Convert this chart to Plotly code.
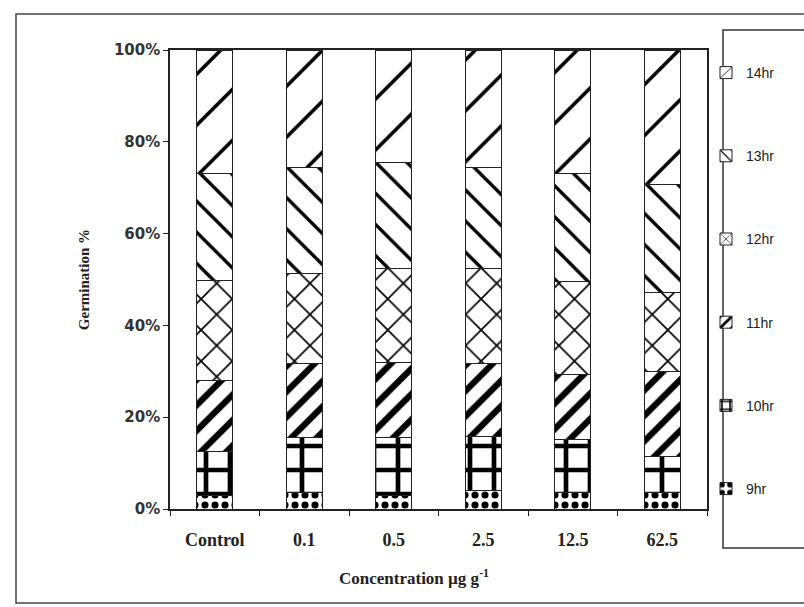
import plotly.graph_objects as go

# Concentrations tested
categories = ["Control", "0.1", "0.5", "2.5", "12.5", "62.5"]

# Share of germination (%) reached at each hour, per concentration
hr9 = [3.0, 3.7, 3.0, 4.0, 3.6, 3.5]
hr10 = [9.5, 11.8, 12.5, 11.8, 11.6, 8.0]
hr11 = [15.5, 16.3, 16.5, 16.0, 14.0, 18.5]
hr12 = [21.7, 19.6, 20.3, 20.5, 20.3, 17.1]
hr13 = [23.3, 23.1, 23.3, 22.0, 23.5, 23.5]
hr14 = [27.0, 25.5, 24.4, 25.7, 27.0, 29.4]

series_names = ["9hr", "10hr", "11hr", "12hr", "13hr", "14hr"]
series_values = [hr9, hr10, hr11, hr12, hr13, hr14]

# black-and-white hatch fills, one per hour
patterns = [
    dict(shape=".", size=10, solidity=0.4),
    dict(shape="+", size=24, solidity=0.35),
    dict(shape="/", size=18, solidity=0.35),
    dict(shape="x", size=22, solidity=0.15),
    dict(shape="\\", size=22, solidity=0.15),
    dict(shape="/", size=36, solidity=0.1),
]

fig = go.Figure()
for i, (name, vals, pat) in enumerate(zip(series_names, series_values, patterns)):
    fig.add_trace(go.Bar(
        x=categories,
        y=vals,
        name=name,
        legendgroup=name,
        legendrank=len(series_names) - i,
        marker=dict(
            color="white",
            line=dict(color="#222222", width=1),
            pattern=dict(fgcolor="black", bgcolor="white", fillmode="replace", **pat),
        ),
    ))

L, R, T, B = 170, 97, 50, 98
W, H = 804, 607
pw, ph = W - L - R, H - T - B


def px(x):
    return (x - L) / pw


def py(y):
    return (H - B - y) / ph


serif = "Liberation Serif, Times New Roman, serif"

fig.update_layout(
    width=W,
    height=H,
    barmode="stack",
    barnorm="percent",
    bargap=0.6,
    paper_bgcolor="white",
    plot_bgcolor="white",
    margin=dict(l=L, r=R, t=T, b=B, autoexpand=False),
    showlegend=True,
    legend=dict(
        x=px(706), y=py(57), xanchor="left", yanchor="top",
        traceorder="grouped",
        tracegroupgap=62,
        bgcolor="rgba(0,0,0,0)",
        borderwidth=0,
        font=dict(family="Liberation Sans, Arial", size=14, color="#222222"),
    ),
    xaxis=dict(
        showline=True, linecolor="#222222", linewidth=1.5, mirror=True,
        ticks="outside", ticklen=5, tickcolor="#222222", tickson="boundaries",
        ticklabelstandoff=14,
        tickfont=dict(family=serif, size=18, color="#222222", weight="bold"),
        showgrid=False,
    ),
    yaxis=dict(
        range=[0, 100], dtick=20, ticksuffix="%",
        showline=True, linecolor="#222222", linewidth=1.5, mirror=True,
        ticks="outside", ticklen=5, tickcolor="#222222",
        tickfont=dict(family="DejaVu Sans, Arial", size=15, color="#333333", weight="bold"),
        title=dict(
            text="Germination %",
            font=dict(family=serif, size=15, color="#222222", weight="bold"),
            standoff=21,
        ),
        showgrid=False, zeroline=False,
    ),
    annotations=[
        dict(text="Concentration µg g<sup>-1</sup>", xref="paper", yref="paper",
             x=px(414), y=py(577), xanchor="center", yanchor="middle", showarrow=False,
             font=dict(family=serif, size=17, color="#222222", weight="bold")),
    ],
    shapes=[
        # outer chart frame
        dict(type="rect", xref="paper", yref="paper",
             x0=px(16), x1=px(830), y0=py(603), y1=py(14),
             line=dict(color="#444444", width=1.5), fillcolor="rgba(0,0,0,0)", layer="below"),
        # legend frame
        dict(type="rect", xref="paper", yref="paper",
             x0=px(723), x1=px(830), y0=py(548), y1=py(30),
             line=dict(color="#333333", width=1.5), fillcolor="rgba(0,0,0,0)"),
    ],
)

fig.write_html("out.html")
